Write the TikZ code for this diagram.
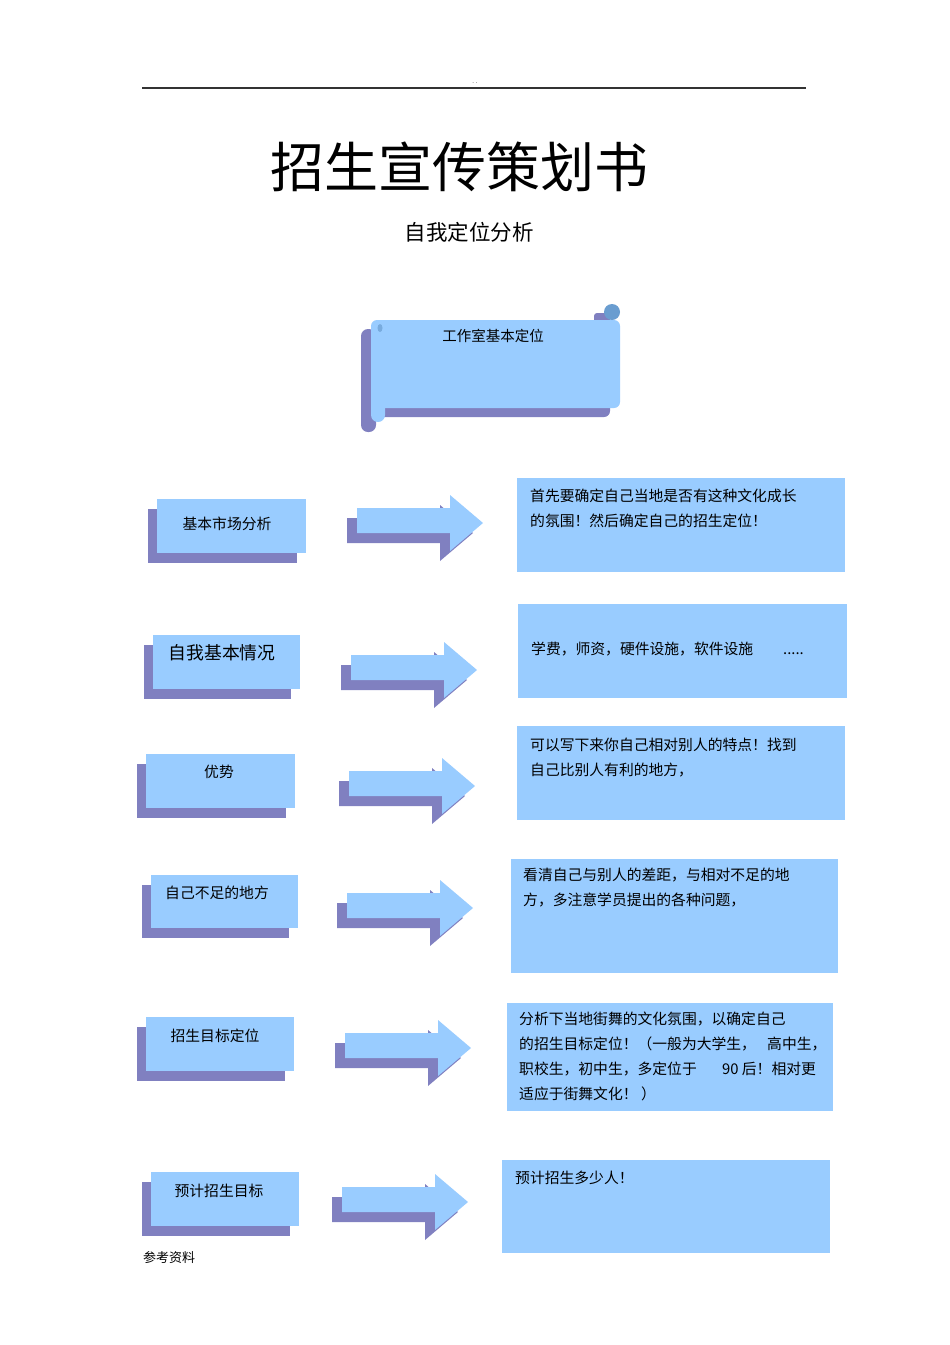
\documentclass[tikz,border=0pt]{standalone}
\usepackage{fontspec}
\setmainfont{Noto Sans CJK SC}
\definecolor{lb}{HTML}{99CCFF}
\definecolor{pu}{HTML}{8080C0}
\definecolor{sb}{HTML}{6A9DD0}
\definecolor{rule}{HTML}{333333}
\begin{document}
\begin{tikzpicture}[x=1pt,y=-1pt,
  lbl/.style={font=\fontsize{14.8}{17}\selectfont, inner sep=0, anchor=base},
  body/.style={font=\fontsize{14.8}{17}\selectfont, inner sep=0, anchor=base west},
  blockarrow/.pic={
    \fill[pu] (-10,10) -- (83,10) -- (83,-3) -- (116,25) -- (83,53) -- (83,35) -- (-10,35) -- cycle;
    \fill[lb] (0,0) -- (93,0) -- (93,-13) -- (126,15) -- (93,43) -- (93,25) -- (0,25) -- cycle;
  }]
\useasboundingbox (0,0) rectangle (950,1345);
\fill[white] (0,0) rectangle (950,1345);

% header
\draw[rule, line width=1.2pt] (142,88) -- (806,88);
\node[font=\fontsize{6}{6}\selectfont, inner sep=0, anchor=base] (dots) at (475,83) {. .};

% title
\node[font=\fontsize{54}{60}\selectfont, inner sep=0, anchor=base] (title) at (459,187.5) {招生宣传策划书};
\node[font=\fontsize{21.5}{24}\selectfont, inner sep=0, anchor=base] (sub) at (469,240) {自我定位分析};

% scroll
\fill[pu, rounded corners=7] (361,329) rectangle (376,432);
\fill[pu, rounded corners=6] (376,398) rectangle (610,417);
\fill[pu, rounded corners=3] (594,313) rectangle (610,324);
\fill[lb, rounded corners=6] (371,320) rectangle (620,408);
\fill[lb, rounded corners=7] (371,330) rectangle (385,422);
\fill[sb] (612,312) circle (8);
\fill[sb!70!lb] (380,328) ellipse (2.5 and 4);
\node[lbl, font=\fontsize{14.5}{17}\selectfont] (scrolltxt) at (493,341.5) {工作室基本定位};

% left boxes
\foreach \n/\xa/\ya/\xb/\yb in {1/157/499/306/553, 2/153/635/300/689, 3/146/754/295/808, 4/151/875/298/928, 5/146/1017/294/1071, 6/151/1172/299/1226}{
  \fill[pu] (\xa-9.5,\ya+9.5) rectangle (\xb-9.5,\yb+9.5);
  \fill[lb] (\xa,\ya) rectangle (\xb,\yb);
}
\node[lbl] (l1) at (227,529.6) {基本市场分析};
\node[lbl, font=\fontsize{17.8}{20}\selectfont] (l2) at (222,659.8) {自我基本情况};
\node[lbl] (l3) at (219,777.6) {优势};
\node[lbl] (l4) at (217,898.6) {自己不足的地方};
\node[lbl] (l5) at (215,1041.6) {招生目标定位};
\node[lbl] (l6) at (219,1196.6) {预计招生目标};

% arrows
\pic at (357,508) {blockarrow};
\pic at (351,655) {blockarrow};
\pic at (349,771) {blockarrow};
\pic at (347,893) {blockarrow};
\pic at (345,1033) {blockarrow};
\pic at (342,1187) {blockarrow};

% right boxes
\fill[lb] (517,478) rectangle (845,572);
\fill[lb] (518,604) rectangle (847,698);
\fill[lb] (517,726) rectangle (845,820);
\fill[lb] (511,859) rectangle (838,973);
\fill[lb] (507,1003) rectangle (833,1111);
\fill[lb] (502,1160) rectangle (830,1253);

\node[body] (r1a) at (530,501.6) {首先要确定自己当地是否有这种文化成长};
\node[body] (r1b) at (530,526.6) {的氛围！然后确定自己的招生定位！};
\node[body] (r2a) at (531,654.6) {学费，师资，硬件设施，软件设施};
\node[body] (r2b) at (783,654.6) {.....};
\node[body] (r3a) at (530,750.6) {可以写下来你自己相对别人的特点！找到};
\node[body] (r3b) at (530,775.6) {自己比别人有利的地方，};
\node[body] (r4a) at (523,880.6) {看清自己与别人的差距，与相对不足的地};
\node[body] (r4b) at (523,905.6) {方，多注意学员提出的各种问题，};
\node[body] (r5a) at (519,1024.6) {分析下当地街舞的文化氛围，以确定自己};
\node[body] (r5b) at (519,1049.6) {的招生目标定位！（一般为大学生，};
\node[body] (r5c) at (767,1049.6) {高中生，};
\node[body] (r5d) at (519,1074.6) {职校生，初中生，多定位于};
\node[body] (r5e) at (722,1074.6) {90 后！相对更};
\node[body] (r5f) at (519,1099.6) {适应于街舞文化！};
\node[body] (r5g) at (641,1099.6) {）};
\node[body] (r6a) at (515,1183.6) {预计招生多少人！};

% footer
\node[body, font=\fontsize{13}{15}\selectfont] (foot) at (143,1262) {参考资料};
\end{tikzpicture}
\end{document}
